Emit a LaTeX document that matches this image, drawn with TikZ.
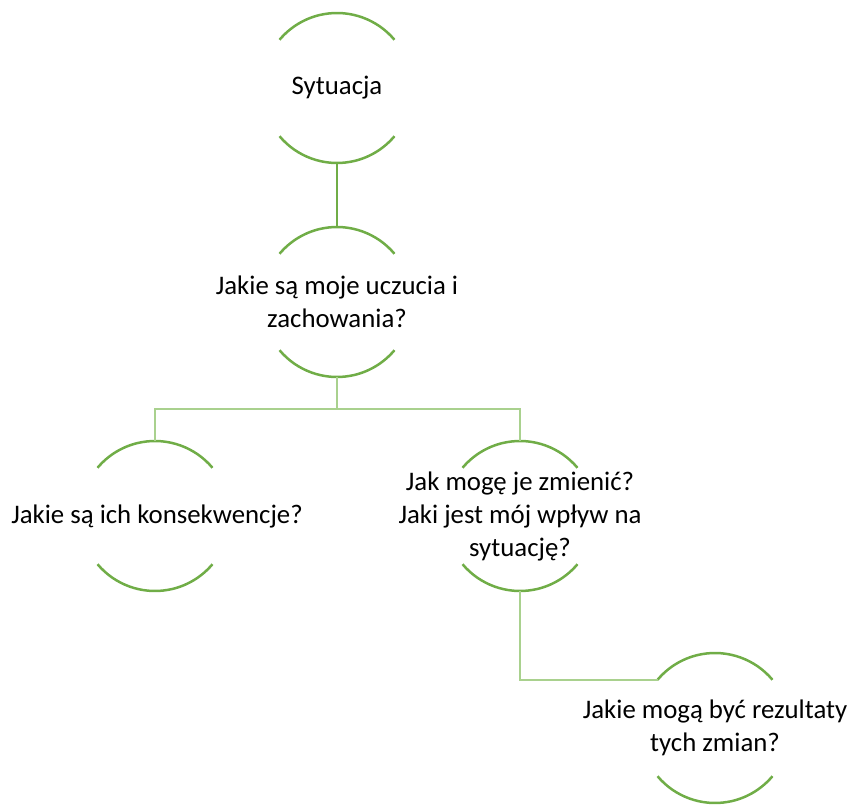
\documentclass[tikz,border=0pt]{standalone}
\usepackage{fontspec}
\setmainfont{Carlito}
\definecolor{leafgreen}{HTML}{70AD47}
\definecolor{palegreen}{HTML}{A9D18E}
\begin{document}
\begin{tikzpicture}[
    x=1pt, y=1pt,
    question/.style={align=center, font=\fontsize{26.8}{33}\selectfont, inner sep=0pt},
    arcline/.style={leafgreen, line width=2.5pt},
    link/.style={leafgreen, line width=2.5pt},
    sublink/.style={palegreen, line width=2.5pt}
  ]
  \useasboundingbox (0,0) rectangle (849,-805);
  \node[question] (sit) at (337,-88) {Sytuacja};
  \node[question] (feel) at (337,-302) {Jakie są moje uczucia i\\zachowania?};
  \node[question] (cons) at (157,-516) {Jakie są ich konsekwencje?};
  \node[question] (change) at (520,-516) {Jak mogę je zmienić?\\Jaki jest mój wpływ na\\sytuację?};
  \node[question] (result) at (715,-728) {Jakie mogą być rezultaty\\tych zmian?};
  \foreach \n in {sit,feel,change,result} {
    \coordinate (\n-top) at ([yshift=75pt]\n.center);
    \coordinate (\n-bot) at ([yshift=-75pt]\n.center);
    \coordinate (\n-tl) at ([shift={(140:75pt)}]\n.center);
    \draw[arcline] ([shift={(40:75pt)}]\n.center) arc[start angle=40, end angle=140, radius=75pt];
    \draw[arcline] ([shift={(220:75pt)}]\n.center) arc[start angle=220, end angle=320, radius=75pt];
  }
  % left child arcs sit a little left of its text
  \coordinate (cons-top) at (155,-441);
  \draw[arcline] ([shift={(40:75pt)}]155,-516) arc[start angle=40, end angle=140, radius=75pt];
  \draw[arcline] ([shift={(220:75pt)}]155,-516) arc[start angle=220, end angle=320, radius=75pt];
  \draw[link] (sit-bot) -- (feel-top);
  \draw[sublink] (feel-bot) -- ++(0,-32) -| (cons-top);
  \draw[sublink] (feel-bot) -- ++(0,-32) -| (change-top);
  \draw[sublink] (change-bot) |- (result-tl);
\end{tikzpicture}
\end{document}
